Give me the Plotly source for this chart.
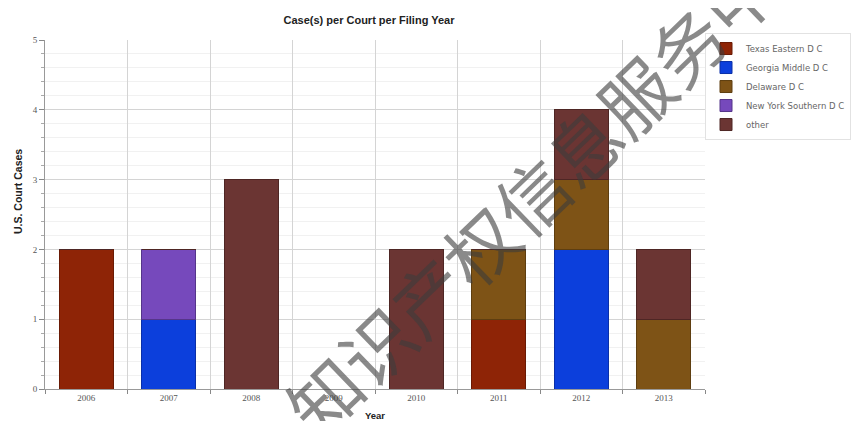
import plotly.graph_objects as go

years = ["2006", "2007", "2008", "2009", "2010", "2011", "2012", "2013"]
series_names = ["Texas Eastern D C", "Georgia Middle D C", "Delaware D C", "New York Southern D C", "other"]
texas_eastern = [2, 0, 0, 0, 0, 1, 0, 0]
georgia_middle = [0, 1, 0, 0, 0, 0, 2, 0]
delaware = [0, 0, 0, 0, 0, 1, 1, 1]
new_york_southern = [0, 1, 0, 0, 0, 0, 0, 0]
other = [0, 0, 3, 0, 2, 0, 1, 1]
y_ticks = [0, 1, 2, 3, 4, 5]

series_values = [texas_eastern, georgia_middle, delaware, new_york_southern, other]
colors = ["#8e2406", "#0c3fdc", "#7e5316", "#7649bc", "#6b3533"]
edges = ["#6a1a04", "#0a2fa8", "#5e3e10", "#55358a", "#4e2624"]

# the page body has an 8px margin, so the figure is sized to fit the window
W, H = 851, 413
L, R, T, B = 37, 154, 32, 32

fig = go.Figure()
for name, vals, c, e in zip(series_names, series_values, colors, edges):
    fig.add_trace(go.Bar(
        x=years, y=vals, name=name,
        marker=dict(color=c, line=dict(color=e, width=1)),
    ))

fig.update_layout(
    width=W, height=H,
    barmode="stack", bargap=0.34,
    margin=dict(l=L, r=R, t=T, b=B),
    paper_bgcolor="white", plot_bgcolor="white",
    title=dict(text="<b>Case(s) per Court per Filing Year</b>", x=361 / W, xanchor="center",
               y=1 - 12 / H, yanchor="middle",
               font=dict(family="Liberation Sans", size=11, color="#222")),
    legend=dict(xref="container", x=697 / W, y=1.02, xanchor="left", yanchor="top",
                traceorder="normal", bgcolor="white", bordercolor="#e2e2e2", borderwidth=1,
                font=dict(family="DejaVu Sans", size=8.5, color="#666"),
                itemwidth=30, tracegroupgap=0),
    showlegend=True,
)

fig.update_xaxes(
    type="category", tickson="boundaries", ticks="outside", ticklen=4, tickcolor="#888",
    showgrid=True, gridcolor="#d4d4d4", gridwidth=1,
    showline=True, linecolor="#999", linewidth=1, automargin=False,
    tickfont=dict(family="Liberation Serif", size=9, color="#555"),
    title=dict(text="<b>Year</b>", font=dict(family="Liberation Sans", size=9.5, color="#222"), standoff=10),
)
fig.update_yaxes(
    range=[0, 5], tickvals=y_ticks, ticks="outside", ticklen=5, tickcolor="#888",
    showgrid=True, gridcolor="#d4d4d4", gridwidth=1,
    showline=True, linecolor="#999", linewidth=1, zeroline=False, automargin=False,
    minor=dict(dtick=0.2, ticks="outside", ticklen=3, tickcolor="#aaa", showgrid=True, gridcolor="#f1f1f1"),
    tickfont=dict(family="Liberation Serif", size=9, color="#555"),
)

# y-axis title
fig.add_annotation(
    text="<b>U.S. Court Cases</b>", xref="paper", yref="paper",
    x=(10 - L) / 660, y=(381 - 184) / 349, xanchor="center", yanchor="middle",
    textangle=-90, showarrow=False,
    font=dict(family="Liberation Sans", size=10.5, color="#222"),
)

# diagonal watermark
fig.add_annotation(
    text="知识产权信息服务中", xref="paper", yref="paper",
    x=(530 - 45) / 660, y=(389 - 194) / 349, xanchor="center", yanchor="middle",
    textangle=-44, showarrow=False,
    font=dict(family="Noto Sans CJK SC", size=72, color="rgba(60,60,60,0.6)"),
)

fig.write_html("out.html")
